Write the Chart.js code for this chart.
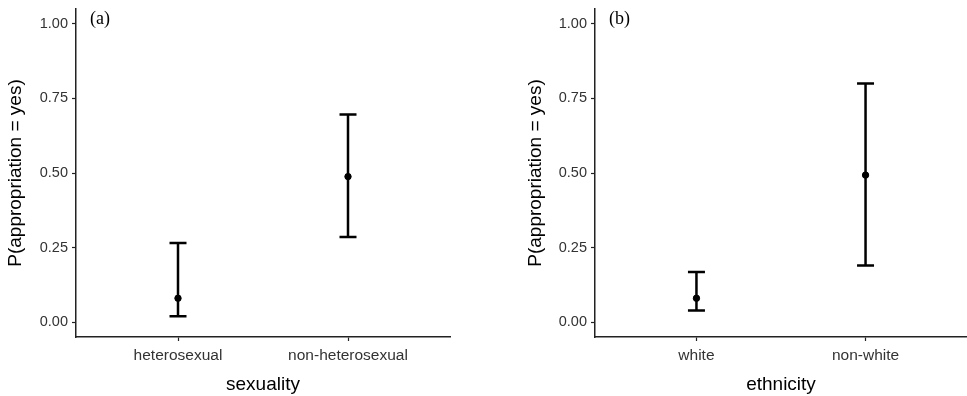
<!DOCTYPE html>
<html>
<head>
<meta charset="utf-8">
<script src="https://cdn.jsdelivr.net/npm/chart.js@4"></script>
<style>
  body { margin: 0; background: #fff; }
  #wrap { position: relative; width: 967px; height: 396px; }
  canvas { position: absolute; top: 0; }
</style>
</head>
<body>
<div id="wrap">
  <canvas id="panelA" width="480" height="396" style="left:0px"></canvas>
  <canvas id="panelB" width="447" height="396" style="left:520px"></canvas>
</div>
<script>
// panel (a)
const sexualityCats = ['heterosexual', 'non-heterosexual'];
const sexualityEst = [0.080, 0.488];
const sexualityLow = [0.020, 0.285];
const sexualityHigh = [0.265, 0.696];

// panel (b)
const ethnicityCats = ['white', 'non-white'];
const ethnicityEst = [0.080, 0.493];
const ethnicityLow = [0.039, 0.190];
const ethnicityHigh = [0.168, 0.800];

const yTicks = [0, 0.25, 0.5, 0.75, 1];
const yTitle = 'P(appropriation = yes)';

const sans = '"Liberation Sans", Arial, sans-serif';

// draws the whiskers through the chart scales
const errorBars = {
    id: 'errorBars',
    beforeDatasetsDraw(chart, args, opts) {
        const ctx = chart.ctx;
        const x = chart.scales.x, y = chart.scales.y;
        ctx.save();
        ctx.strokeStyle = '#000';
        ctx.lineWidth = 2.5;
        opts.low.forEach((lo, i) => {
            const px = x.getPixelForValue(i);
            const yLo = y.getPixelForValue(lo);
            const yHi = y.getPixelForValue(opts.high[i]);
            ctx.beginPath();
            ctx.moveTo(px, yLo);
            ctx.lineTo(px, yHi);
            ctx.moveTo(px - 8.5, yLo);
            ctx.lineTo(px + 8.5, yLo);
            ctx.moveTo(px - 8.5, yHi);
            ctx.lineTo(px + 8.5, yHi);
            ctx.stroke();
        });
        ctx.restore();
    }
};

const panelTag = {
    id: 'panelTag',
    afterDraw(chart, args, opts) {
        const ctx = chart.ctx;
        ctx.save();
        ctx.fillStyle = '#000';
        ctx.font = '18px "Liberation Serif", "Times New Roman", serif';
        ctx.textBaseline = 'middle';
        ctx.fillText(opts.text, chart.chartArea.left + 14, chart.chartArea.top + 10);
        ctx.restore();
    }
};

function makePanel(id, cats, est, low, high, xTitle, tag, yWidth, padRight) {
    const ctx = document.getElementById(id).getContext('2d');
    return new Chart(ctx, {
        type: 'scatter',
        data: {
            datasets: [{
                data: est.map((v, i) => ({ x: i, y: v })),
                backgroundColor: '#000',
                borderColor: '#000',
                pointRadius: 3.2,
                pointHoverRadius: 3.2
            }]
        },
        options: {
            responsive: false,
            animation: false,
            layout: { autoPadding: false, padding: { top: 9, right: padRight, left: 0, bottom: 0 } },
            plugins: {
                legend: { display: false },
                tooltip: { enabled: false },
                errorBars: { low: low, high: high },
                panelTag: { text: tag }
            },
            scales: {
                x: {
                    type: 'linear',
                    min: -0.6,
                    max: 1.6,
                    afterBuildTicks: s => { s.ticks = cats.map((c, i) => ({ value: i })); },
                    afterFit: s => { s.height = 59; s.paddingLeft = 0; s.paddingRight = 0; },
                    border: { color: '#222', width: 1.5 },
                    grid: { drawOnChartArea: false, drawTicks: true, tickLength: 4, color: '#222', tickWidth: 1.2 },
                    ticks: {
                        color: '#333',
                        padding: 5,
                        maxRotation: 0,
                        font: { family: sans, size: 15.5 },
                        callback: v => cats[v]
                    },
                    title: {
                        display: true,
                        text: xTitle,
                        color: '#000',
                        font: { family: sans, size: 19 },
                        padding: { top: 0, bottom: 0 }
                    }
                },
                y: {
                    min: -0.05,
                    max: 1.05,
                    afterBuildTicks: s => { s.ticks = yTicks.map(v => ({ value: v })); },
                    afterFit: s => { s.width = yWidth; s.paddingTop = 0; s.paddingBottom = 0; },
                    border: { color: '#222', width: 1.5 },
                    grid: { drawOnChartArea: false, drawTicks: true, tickLength: 4, color: '#222', tickWidth: 1.2 },
                    ticks: {
                        color: '#333',
                        padding: 4,
                        font: { family: sans, size: 14.5 },
                        callback: v => v.toFixed(2)
                    },
                    title: {
                        display: true,
                        text: yTitle,
                        color: '#000',
                        font: { family: sans, size: 19 },
                        padding: { top: 4, bottom: 0 }
                    }
                }
            }
        },
        plugins: [errorBars, panelTag]
    });
}

makePanel('panelA', sexualityCats, sexualityEst, sexualityLow, sexualityHigh, 'sexuality', '(a)', 76, 30);
makePanel('panelB', ethnicityCats, ethnicityEst, ethnicityLow, ethnicityHigh, 'ethnicity', '(b)', 75, 0);
</script>
</body>
</html>
